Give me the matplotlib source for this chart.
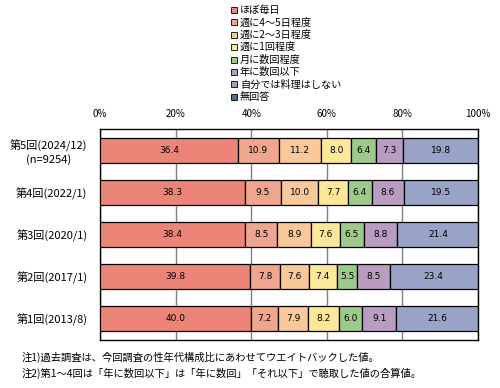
import matplotlib
matplotlib.use("Agg")
import matplotlib.pyplot as plt
from matplotlib.patches import Rectangle

plt.rcParams['font.family'] = ['Noto Sans CJK JP', 'DejaVu Sans']

categories = ["第5回(2024/12)\n(n=9254)", "第4回(2022/1)", "第3回(2020/1)", "第2回(2017/1)", "第1回(2013/8)"]
series_names = ["ほぼ毎日", "週に4～5日程度", "週に2～3日程度", "週に1回程度", "月に数回程度",
                "年に数回以下", "自分では料理はしない", "無回答"]
values = {
    "ほぼ毎日":          [36.4, 38.3, 38.4, 39.8, 40.0],
    "週に4～5日程度":    [10.9, 9.5, 8.5, 7.8, 7.2],
    "週に2～3日程度":    [11.2, 10.0, 8.9, 7.6, 7.9],
    "週に1回程度":       [8.0, 7.7, 7.6, 7.4, 8.2],
    "月に数回程度":      [6.4, 6.4, 6.5, 5.5, 6.0],
    "年に数回以下":      [7.3, 8.6, 8.8, 8.5, 9.1],
    "自分では料理はしない": [19.8, 19.5, 21.4, 23.4, 21.6],
    "無回答":            [0.0, 0.0, 0.0, 0.0, 0.0],
}
colors = ["#EC8577", "#F0A58E", "#F9C899", "#FDE899", "#9DCA8A", "#B99DC0", "#99A3C7", "#4E6A9F"]
xticks = [0, 20, 40, 60, 80, 100]
xticklabels = ["0%", "20%", "40%", "60%", "80%", "100%"]
notes = ["注1)過去調査は、今回調査の性年代構成比にあわせてウエイトバックした値。",
         "注2)第1～4回は「年に数回以下」は「年に数回」「それ以下」で聴取した値の合算値。"]

W, H = 500, 388
fig = plt.figure(figsize=(W / 100, H / 100), dpi=100)
ax = fig.add_axes([100 / W, 1 - 340 / H, (478 - 100) / W, (340 - 129) / H])

ypos = list(range(len(categories)))
left = [0.0] * len(categories)
for name, col in zip(series_names, colors):
    vals = values[name]
    ax.barh(ypos, vals, left=left, height=0.59, color=col, edgecolor="black", linewidth=0.9, zorder=3)
    for i, v in enumerate(vals):
        if v > 0:
            ax.text(left[i] + v / 2, ypos[i], f"{v:.1f}", ha="center", va="center", fontsize=6.5, zorder=4,
                    family=['DejaVu Sans'])
    left = [l + v for l, v in zip(left, vals)]

ax.set_xlim(0, 100)
ax.set_ylim(len(categories) - 0.5, -0.5)
ax.set_xticks(xticks)
ax.set_xticklabels(xticklabels, fontsize=7)
ax.xaxis.tick_top()
ax.tick_params(axis="x", length=0, pad=7)
ax.set_yticks(ypos)
ax.set_yticklabels(categories, fontsize=8, multialignment="center")
ax.tick_params(axis="y", length=0, pad=9)
ax.grid(axis="x", color="#808080", linewidth=1.0, zorder=0)
for s in ax.spines.values():
    s.set_linewidth(1.0)
    s.set_color("black")

# legend
for k, (name, col) in enumerate(zip(series_names, colors)):
    y = 10 + k * 12.4
    fig.patches.append(Rectangle((231 / W, 1 - (y + 3) / H), 6 / W, 6 / H, transform=fig.transFigure,
                                 facecolor=col, edgecolor="black", linewidth=0.6))
    fig.text(240 / W, 1 - y / H, name, fontsize=7.3, va="center", ha="left")

for j, t in enumerate(notes):
    fig.text(22 / W, 1 - (357 + j * 16) / H, t, fontsize=7.4, va="center", ha="left")

fig.savefig("out.png", dpi=100)
